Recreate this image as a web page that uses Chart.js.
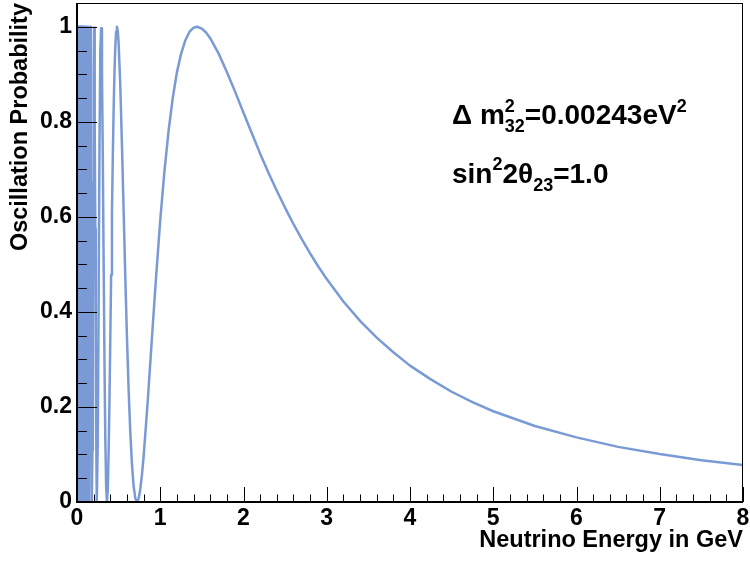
<!DOCTYPE html>
<html>
<head>
<meta charset="utf-8">
<script src="https://cdn.jsdelivr.net/npm/chart.js@4.4.1/dist/chart.umd.min.js"></script>
<style>
  html, body { margin: 0; padding: 0; background: #fff; }
  canvas { display: block; }
</style>
</head>
<body>
<canvas id="chart" width="750" height="562"></canvas>
<script>
// values (energy in GeV, probability)
const energyGeV = [
  0.002, 0.005, 0.008, 0.011, 0.014, 0.017, 0.020, 0.023, 0.026, 0.029,
  0.032, 0.035, 0.038, 0.041, 0.044, 0.047, 0.050, 0.053, 0.056, 0.059,
  0.062, 0.065, 0.068, 0.072, 0.076, 0.080, 0.085, 0.090, 0.096, 0.103,
  0.107, 0.111, 0.115, 0.120, 0.125, 0.131, 0.137, 0.144, 0.150, 0.155,
  0.160, 0.165, 0.170, 0.175, 0.180, 0.185, 0.190, 0.195, 0.200, 0.205,
  0.210, 0.215, 0.220, 0.225, 0.230, 0.235, 0.240, 0.250, 0.260, 0.270,
  0.280, 0.290, 0.300, 0.310, 0.320, 0.330, 0.340, 0.350, 0.360, 0.370,
  0.380, 0.390, 0.400, 0.410, 0.420, 0.430, 0.440, 0.450, 0.460, 0.470,
  0.480, 0.490, 0.500, 0.520, 0.540, 0.560, 0.580, 0.600, 0.620, 0.640,
  0.660, 0.680, 0.700, 0.720, 0.740, 0.760, 0.780, 0.800, 0.850, 0.900,
  0.950, 1.000, 1.050, 1.100, 1.150, 1.200, 1.250, 1.300, 1.350, 1.400,
  1.440, 1.500, 1.550, 1.600, 1.700, 1.800, 1.900, 2.000, 2.100, 2.200,
  2.300, 2.400, 2.500, 2.600, 2.700, 2.800, 2.900, 3.000, 3.200, 3.400,
  3.600, 3.800, 4.000, 4.250, 4.500, 4.750, 5.000, 5.500, 6.000, 6.500,
  7.000, 7.500, 8.000
];
const probability = [
  1, 0, 1, 0, 1, 0, 1, 0, 1, 0,
  1, 0, 1, 0, 1, 0, 1, 0, 1, 0,
  1, 0, 1, 0, 1, 0, 1, 0, 1, 0,
  0.556, 1.000, 0.543, 0.000, 0.461, 1.000, 0.524, 0.000, 0.339, 0.801,
  1.000, 0.832, 0.460, 0.127, 0.000, 0.108, 0.372, 0.673, 0.901, 0.998,
  0.953, 0.796, 0.576, 0.350, 0.162, 0.042, 0.000, 0.133, 0.436, 0.746,
  0.949, 0.997, 0.906, 0.723, 0.504, 0.295, 0.133, 0.033, 0.000, 0.028,
  0.104, 0.214, 0.343, 0.478, 0.609, 0.726, 0.826, 0.903, 0.958, 0.990,
  1.000, 0.991, 0.966, 0.876, 0.751, 0.613, 0.475, 0.347, 0.237, 0.148,
  0.080, 0.034, 0.008, 0.000, 0.007, 0.027, 0.057, 0.095, 0.213, 0.345,
  0.474, 0.593, 0.695, 0.781, 0.850, 0.904, 0.943, 0.971, 0.989, 0.998,
  1.000, 0.996, 0.988, 0.976, 0.944, 0.905, 0.863, 0.819, 0.776, 0.733,
  0.693, 0.655, 0.619, 0.585, 0.553, 0.523, 0.495, 0.469, 0.422, 0.381,
  0.346, 0.315, 0.287, 0.258, 0.232, 0.210, 0.191, 0.160, 0.136, 0.116,
  0.101, 0.088, 0.078
];

const xTicks = [0, 1, 2, 3, 4, 5, 6, 7, 8];
const yTicks = [0, 0.2, 0.4, 0.6, 0.8, 1];
const yTickLabels = ['0', '0.2', '0.4', '0.6', '0.8', '1'];

const FONT = 'Liberation Sans, Arial, Helvetica, sans-serif';
const lineColor = '#7a9ad6';

const points = energyGeV.map((e, i) => ({ x: e, y: probability[i] }));

// ROOT style frame with inward ticks, drawn on top of the curve
const rootFrame = {
  id: 'rootFrame',
  afterDatasetsDraw(chart) {
    const ctx = chart.ctx;
    const xs = chart.scales.x, ys = chart.scales.y;
    const { left, right, top, bottom } = chart.chartArea;
    ctx.save();
    ctx.strokeStyle = '#000';
    ctx.lineWidth = 1;
    for (let i = 0; i <= 20; i++) {
      const y = Math.round(ys.getPixelForValue(i * 0.05)) + 0.5;
      const len = i % 4 === 0 ? 20 : 10;
      ctx.beginPath(); ctx.moveTo(left, y); ctx.lineTo(left + len, y); ctx.stroke();
    }
    for (let i = 0; i <= 40; i++) {
      const x = Math.round(xs.getPixelForValue(i * 0.2)) + 0.5;
      const len = i % 5 === 0 ? 15 : 7.5;
      ctx.beginPath(); ctx.moveTo(x, bottom); ctx.lineTo(x, bottom - len); ctx.stroke();
    }
    ctx.strokeRect(left + 0.5, top + 0.5, right - left - 1, bottom - top - 1);
    ctx.lineWidth = 2;
    ctx.beginPath();
    ctx.moveTo(left, top); ctx.lineTo(left, bottom); ctx.lineTo(right, bottom);
    ctx.stroke();
    ctx.restore();
  }
};

// the two text lines in the upper right
function drawRuns(ctx, x, base, runs) {
  for (const r of runs) {
    ctx.font = 'bold ' + r.size + 'px ' + FONT;
    if (r.stack) {
      ctx.fillText(r.sup, x, base - r.up);
      ctx.fillText(r.sub, x, base + r.down);
      x += Math.max(ctx.measureText(r.sup).width, ctx.measureText(r.sub).width);
    } else {
      ctx.fillText(r.t, x, base + (r.dy || 0));
      x += ctx.measureText(r.t).width;
    }
  }
}

const labels = {
  id: 'labels',
  afterDraw(chart) {
    const ctx = chart.ctx;
    ctx.save();
    ctx.fillStyle = '#000';
    ctx.textBaseline = 'alphabetic';
    ctx.textAlign = 'left';
    drawRuns(ctx, 452, 124, [
      { t: '\u0394 ', size: 28 },
      { t: 'm', size: 28 },
      { stack: true, sup: '2', sub: '32', size: 18, up: 12, down: 8 },
      { t: '=0.00243eV', size: 28 },
      { t: '2', size: 18, dy: -12 }
    ]);
    drawRuns(ctx, 452, 183, [
      { t: 'sin', size: 28 },
      { t: '2', size: 18, dy: -13 },
      { t: '2\u03b8', size: 28 },
      { t: '23', size: 18, dy: 8 },
      { t: '=1.0', size: 28 }
    ]);
    ctx.restore();
  }
};

new Chart(document.getElementById('chart'), {
  type: 'line',
  data: {
    datasets: [{
      data: points,
      borderColor: lineColor,
      borderWidth: 2.5,
      borderJoinStyle: 'round',
      pointRadius: 0,
      tension: 0,
      fill: false
    }]
  },
  options: {
    responsive: false,
    animation: false,
    devicePixelRatio: 1,
    layout: { padding: { left: 0, top: 3, right: 7, bottom: 0 } },
    plugins: {
      legend: { display: false },
      tooltip: { enabled: false }
    },
    scales: {
      x: {
        type: 'linear',
        min: 0,
        max: 8,
        afterBuildTicks: s => { s.ticks = xTicks.map(v => ({ value: v })); },
        afterFit: s => { s.height = 60; s.paddingLeft = 0; s.paddingRight = 0; },
        grid: { display: false, drawTicks: false },
        border: { display: false },
        ticks: {
          color: '#000',
          padding: 3,
          maxRotation: 0,
          autoSkip: false,
          font: { family: FONT, size: 23, weight: 'bold' },
          callback: v => String(v)
        },
        title: {
          display: true,
          text: 'Neutrino Energy in GeV',
          align: 'end',
          color: '#000',
          padding: { top: 0, bottom: 7 },
          font: { family: FONT, size: 23.5, weight: 'bold' }
        }
      },
      y: {
        type: 'linear',
        min: 0,
        max: 1.05,
        afterBuildTicks: s => { s.ticks = yTicks.map(v => ({ value: v })); },
        afterFit: s => { s.width = 77; s.paddingTop = 0; s.paddingBottom = 0; },
        grid: { display: false, drawTicks: false },
        border: { display: false },
        ticks: {
          color: '#000',
          padding: 5,
          autoSkip: false,
          font: { family: FONT, size: 23, weight: 'bold' },
          callback: (v, i) => yTickLabels[i]
        },
        title: {
          display: true,
          text: 'Oscillation Probability',
          align: 'end',
          color: '#000',
          padding: { top: 6, bottom: 0 },
          font: { family: FONT, size: 23.5, weight: 'bold' }
        }
      }
    }
  },
  plugins: [rootFrame, labels]
});
</script>
</body>
</html>
